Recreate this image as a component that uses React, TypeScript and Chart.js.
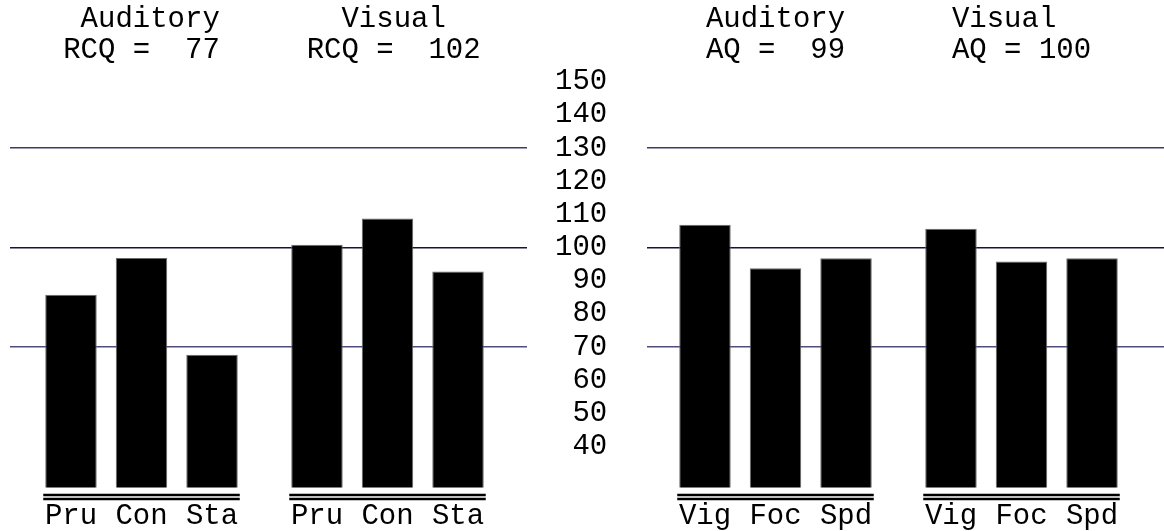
import { useEffect, useRef } from "react";
import Chart from "chart.js/auto";

const FONT = '"Liberation Mono", "Courier New", monospace';
const FONT_SIZE = 29;

// Left panel (RCQ)
const leftHeaders = [[" Auditory", "RCQ =  77"], ["  Visual  ", "RCQ =  102"]];
const leftCategories = ["Pru", "Con", "Sta"];
const leftAuditory = [85.7, 96.8, 67.6];
const leftVisual = [100.8, 108.7, 92.7];

// Right panel (AQ)
const rightHeaders = [["Auditory", "AQ =  99"], ["Visual  ", "AQ = 100"]];
const rightCategories = ["Vig", "Foc", "Spd"];
const rightAuditory = [106.8, 93.7, 96.7];
const rightVisual = [105.6, 95.7, 96.7];

// Scale
const referenceLines = [130, 100, 70];
const referenceColors = ["#3a3a6c", "#14143e", "#4e4e7e"];
const yMin = 27.6;
const yMax = 150;
const yStep = 10;
const yLabelMin = 40;

function makeConfig(
  headers: string[][],
  headerShift: number[],
  categories: string[],
  auditory: number[],
  visual: number[],
  xMin: number,
  xMax: number,
  showYLabels: boolean,
  yAxisWidth: number,
  padLeft: number,
  padRight: number
): any {
  const datasets = categories.map((c, i) => ({
    label: c,
    data: [
      { x: 0, y: auditory[i] },
      { x: 1, y: visual[i] },
    ],
    backgroundColor: "#000000",
    borderColor: "#6a6a6a",
    borderWidth: 1,
    categoryPercentage: 0.86,
    barPercentage: 0.73,
  }));

  const decor = {
    id: "decor",
    afterDatasetsDraw(chart: any) {
      const ctx = chart.ctx;
      const area = chart.chartArea;
      const metas = categories.map((_, i) => chart.getDatasetMeta(i));
      ctx.save();
      // double underline under each group
      for (let g = 0; g < headers.length; g++) {
        const first = metas[0].data[g];
        const last = metas[metas.length - 1].data[g];
        const l = first.x - first.width / 2 - 2;
        const r = last.x + last.width / 2 + 2;
        ctx.strokeStyle = "#000";
        ctx.lineWidth = 2.5;
        [7.5, 11.5].forEach((dy) => {
          ctx.beginPath();
          ctx.moveTo(l, area.bottom + dy);
          ctx.lineTo(r, area.bottom + dy);
          ctx.stroke();
        });
      }
      // category labels under bars
      ctx.fillStyle = "#000";
      ctx.font = FONT_SIZE + "px " + FONT;
      ctx.textAlign = "center";
      ctx.textBaseline = "alphabetic";
      metas.forEach((m: any, i: number) => {
        m.data.forEach((el: any) => {
          ctx.fillText(categories[i], el.x, area.bottom + 36.5);
        });
      });
      ctx.restore();
    },
  };

  return {
    type: "bar",
    data: { datasets },
    plugins: [decor],
    options: {
      animation: false,
      responsive: false,
      events: [],
      layout: { padding: { left: padLeft, right: padRight, top: 0, bottom: 43.5 } },
      plugins: { legend: { display: false }, tooltip: { enabled: false }, title: { display: false } },
      scales: {
        x: {
          type: "linear",
          position: "top",
          offset: false,
          min: xMin,
          max: xMax,
          grid: { display: false, drawTicks: false, offset: false },
          border: { display: false },
          afterBuildTicks: (s: any) => {
            s.ticks = headers.map((_, i) => ({ value: i + headerShift[i] }));
          },
          afterFit: (s: any) => {
            s.height = 81.5;
          },
          ticks: {
            autoSkip: false,
            maxRotation: 0,
            padding: 15,
            color: "#000",
            font: { family: FONT, size: FONT_SIZE, lineHeight: 1.09 },
            callback: (_v: any, i: number) => headers[i],
          },
        },
        y: {
          type: "linear",
          position: "left",
          min: yMin,
          max: yMax,
          border: { display: false },
          grid: {
            drawTicks: false,
            color: (c: any) => {
              const k = referenceLines.indexOf(c.tick && c.tick.value);
              return k >= 0 ? referenceColors[k] : "rgba(0,0,0,0)";
            },
            lineWidth: 1.5,
          },
          afterFit: (s: any) => {
            s.width = yAxisWidth;
          },
          ticks: {
            display: showYLabels,
            autoSkip: false,
            stepSize: yStep,
            includeBounds: false,
            padding: 0,
            crossAlign: "far",
            color: "#000",
            font: { family: FONT, size: FONT_SIZE },
            callback: (v: any) => (v >= yLabelMin ? String(v).padStart(3, " ") : ""),
          },
        },
      },
    },
  };
}

export default function App() {
  const leftRef = useRef<HTMLCanvasElement>(null);
  const rightRef = useRef<HTMLCanvasElement>(null);

  useEffect(() => {
    const left = new Chart(
      leftRef.current as HTMLCanvasElement,
      makeConfig(leftHeaders, [0, 0.025], leftCategories, leftAuditory, leftVisual, -0.53455, 1.56707, false, 0, 10, 13)
    );
    const right = new Chart(
      rightRef.current as HTMLCanvasElement,
      makeConfig(rightHeaders, [0, 0], rightCategories, rightAuditory, rightVisual, -0.52236, 1.57927, true, 92, 0, 0)
    );
    return () => {
      left.destroy();
      right.destroy();
    };
  }, []);

  return (
    <div style={{ position: "fixed", left: 0, top: 0, width: 1164, height: 531, background: "#fff" }}>
      <canvas ref={leftRef} width={540} height={531} style={{ position: "absolute", left: 0, top: 0 }} />
      <canvas ref={rightRef} width={609} height={531} style={{ position: "absolute", left: 555, top: 0 }} />
    </div>
  );
}
